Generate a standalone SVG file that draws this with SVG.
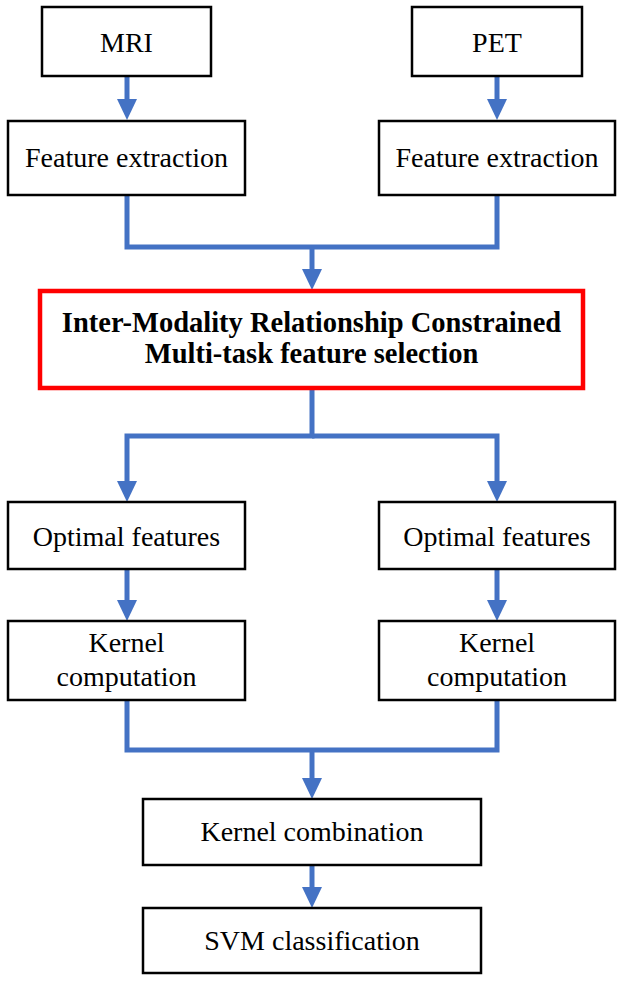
<svg xmlns="http://www.w3.org/2000/svg" width="624" height="982" viewBox="0 0 624 982">
<style>
.box{fill:#fff;stroke:#000;stroke-width:2.5}
.red{fill:#fff;stroke:#ff0000;stroke-width:4.5}
.t{font-family:"Liberation Serif","Times New Roman",serif;font-size:28px;fill:#000;text-anchor:middle}
.b{font-weight:bold;font-size:28.5px}
.c{fill:none;stroke:#4472C4;stroke-width:5;stroke-linejoin:miter}
.a{marker-end:url(#ah)}
</style>
<defs>
<marker id="ah" markerUnits="userSpaceOnUse" markerWidth="22" markerHeight="22" refX="0" refY="10" orient="auto" viewBox="0 0 22 20">
<path d="M0,0 L21,10 L0,20 z" fill="#4472C4"/>
</marker>
</defs>
<g id="connectors">
<line class="c a" x1="127" y1="76" x2="127" y2="99"/>
<line class="c a" x1="497" y1="76" x2="497" y2="99"/>
<polyline class="c" points="127,195 127,247 497,247 497,195"/>
<line class="c a" x1="312" y1="247" x2="312" y2="269"/>
<path class="c a" d="M312,388 V436 H127 V481"/>
<path class="c a" d="M312,436 H497 V481"/>
<line class="c a" x1="127" y1="569" x2="127" y2="600"/>
<line class="c a" x1="497" y1="569" x2="497" y2="600"/>
<polyline class="c" points="127,700 127,750 497,750 497,700"/>
<line class="c a" x1="312" y1="750" x2="312" y2="778"/>
<line class="c a" x1="312" y1="865" x2="312" y2="887"/>
</g>
<g id="mri"><rect class="box" x="42" y="7" width="169" height="69"/><text class="t" x="126.5" y="52">MRI</text></g>
<g id="pet"><rect class="box" x="412" y="7" width="170" height="69"/><text class="t" x="497" y="52">PET</text></g>
<g id="fe-left"><rect class="box" x="8" y="121" width="237" height="74"/><text class="t" x="126.5" y="167">Feature extraction</text></g>
<g id="fe-right"><rect class="box" x="379" y="121" width="236" height="74"/><text class="t" x="497" y="167">Feature extraction</text></g>
<g id="mtfs"><rect class="red" x="40" y="291" width="543" height="97"/>
<text class="t b" x="311.5" y="332">Inter-Modality Relationship Constrained</text>
<text class="t b" x="311.5" y="363">Multi-task feature selection</text></g>
<g id="of-left"><rect class="box" x="8" y="502" width="237" height="67"/><text class="t" x="126.5" y="546">Optimal features</text></g>
<g id="of-right"><rect class="box" x="379" y="502" width="236" height="67"/><text class="t" x="497" y="546">Optimal features</text></g>
<g id="kc-left"><rect class="box" x="8" y="621" width="237" height="79"/><text class="t" x="126.5" y="652">Kernel</text><text class="t" x="126.5" y="686">computation</text></g>
<g id="kc-right"><rect class="box" x="379" y="621" width="236" height="79"/><text class="t" x="497" y="652">Kernel</text><text class="t" x="497" y="686">computation</text></g>
<g id="kcomb"><rect class="box" x="143" y="799" width="338" height="66"/><text class="t" x="312" y="841">Kernel combination</text></g>
<g id="svm"><rect class="box" x="143" y="908" width="338" height="65"/><text class="t" x="312" y="950">SVM classification</text></g>
</svg>
